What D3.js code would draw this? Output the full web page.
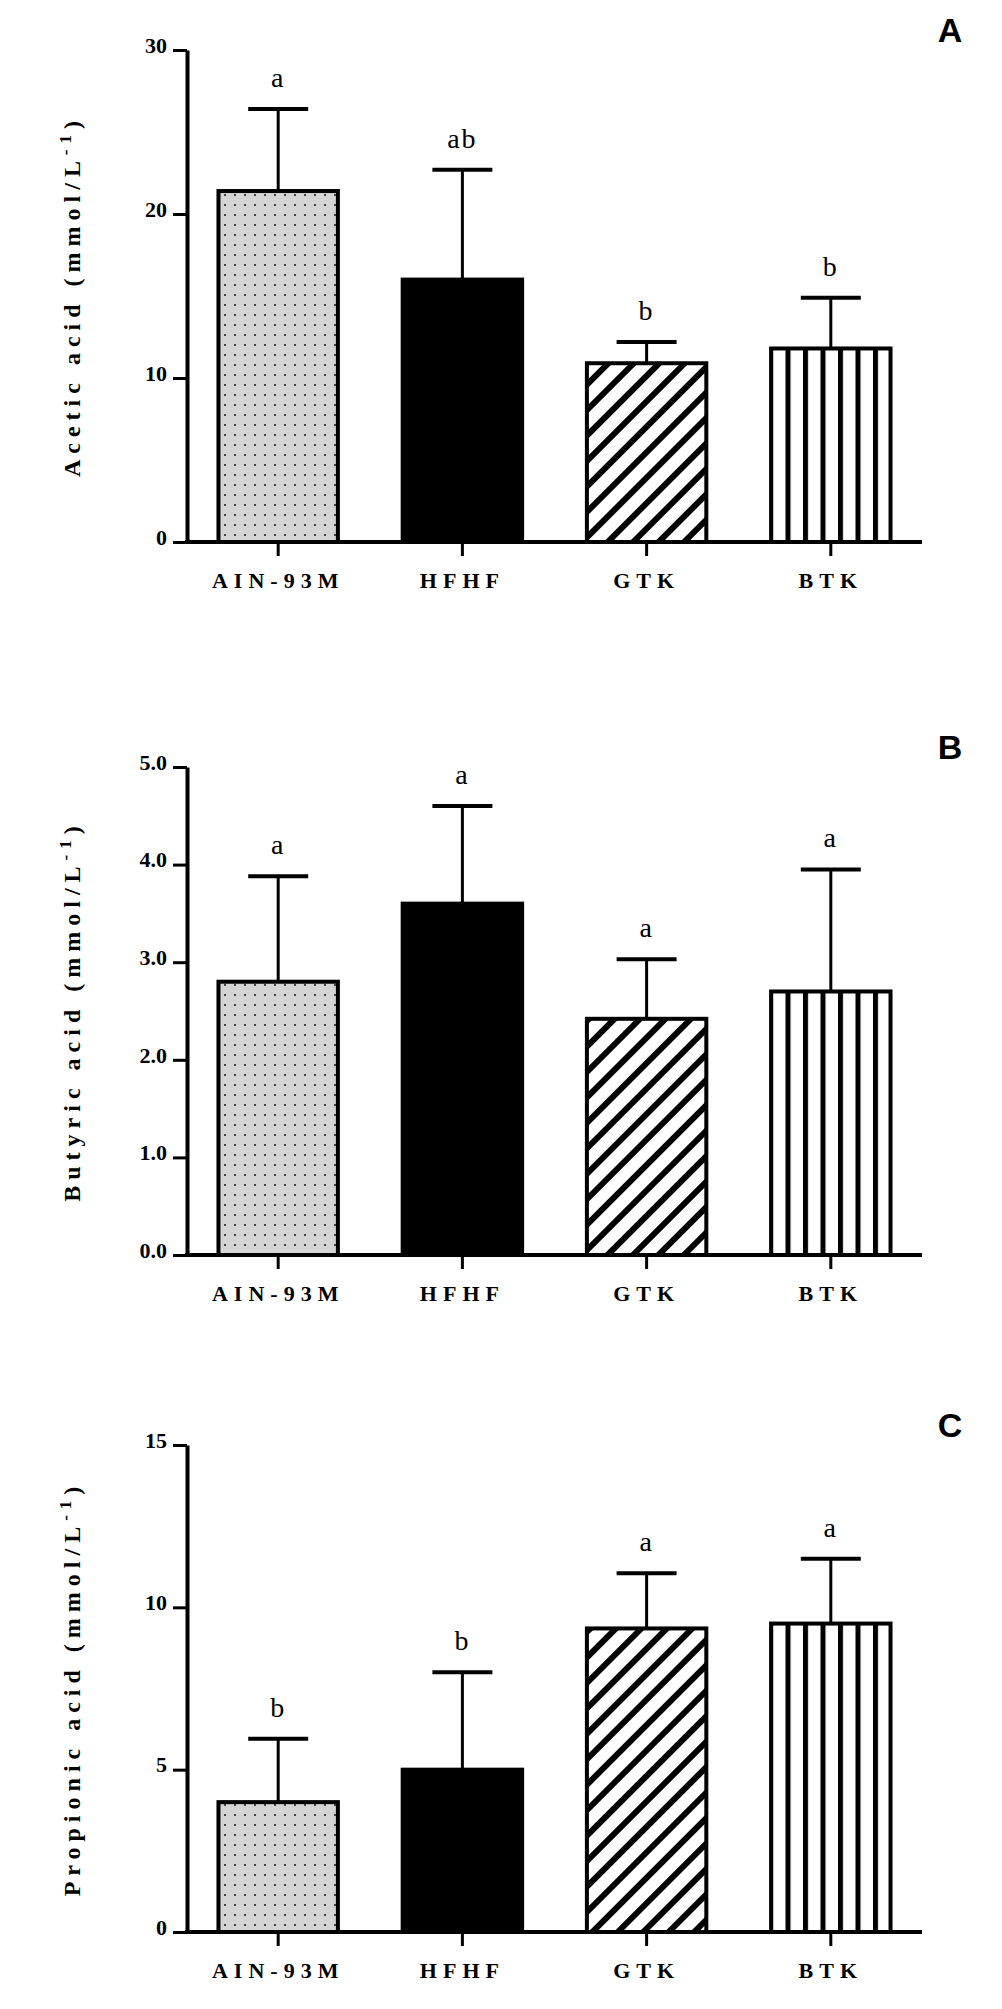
<!DOCTYPE html>
<html><head><meta charset="utf-8">
<script src="https://cdn.jsdelivr.net/npm/d3@7"></script>
<style>body{margin:0;background:#fff}</style>
</head><body><div id="chart"></div>
<script>
var vWidth = 1002, vHeight = 2009;
var groups = ["AIN-93M", "HFHF", "GTK", "BTK"];
var acetic = [21.4, 16.0, 10.9, 11.8];
var aceticErr = [26.4, 22.7, 12.2, 14.9];
var aceticSig = ["a", "ab", "b", "b"];
var butyric = [2.8, 3.6, 2.42, 2.7];
var butyricErr = [3.88, 4.6, 3.03, 3.95];
var butyricSig = ["a", "a", "a", "a"];
var propionic = [4.0, 5.0, 9.35, 9.5];
var propionicErr = [5.95, 8.0, 11.05, 11.5];
var propionicSig = ["b", "b", "a", "a"];

var svg = d3.select("#chart").append("svg").attr("width", vWidth).attr("height", vHeight);
var defs = svg.append("defs");

// patterns
var pDot = defs.append("pattern").attr("id", "dots").attr("patternUnits", "userSpaceOnUse")
  .attr("width", 10).attr("height", 10);
pDot.append("rect").attr("width", 10).attr("height", 10).attr("fill", "#d4d4d4");
pDot.append("circle").attr("cx", 5).attr("cy", 5).attr("r", 1.1).attr("fill", "#222");
var pDiag = defs.append("pattern").attr("id", "diag").attr("patternUnits", "userSpaceOnUse")
  .attr("width", 18).attr("height", 18).attr("patternTransform", "rotate(45)");
pDiag.append("rect").attr("width", 18).attr("height", 18).attr("fill", "#fff");
pDiag.append("rect").attr("width", 6).attr("height", 18).attr("fill", "#000");
var pVert = defs.append("pattern").attr("id", "vert").attr("patternUnits", "userSpaceOnUse")
  .attr("width", 17.5).attr("height", 10).attr("x", 768);
pVert.append("rect").attr("width", 17.5).attr("height", 10).attr("fill", "#fff");
pVert.append("rect").attr("width", 5).attr("height", 10).attr("fill", "#000");
var fills = ["url(#dots)", "#000", "url(#diag)", "url(#vert)"];

function drawPanel(letter, yTop, yBot, maxV, step, vals, errs, sig, label) {
  var x = d3.scaleBand().domain(groups).range([187, 922]).paddingInner(0.33).paddingOuter(0.16);
  var y = d3.scaleLinear().domain([0, maxV]).range([yBot, yTop]);
  var g = svg.append("g");

  // error bars (behind bars)
  groups.forEach(function (c, i) {
    var cx = x(c) + x.bandwidth() / 2;
    g.append("line").attr("x1", cx).attr("x2", cx).attr("y1", y(vals[i])).attr("y2", y(errs[i]))
      .attr("stroke", "#000").attr("stroke-width", 3);
    g.append("line").attr("x1", cx - 30).attr("x2", cx + 30).attr("y1", y(errs[i])).attr("y2", y(errs[i]))
      .attr("stroke", "#000").attr("stroke-width", 4);
    g.append("text").attr("x", cx).attr("y", y(errs[i]) - 22).attr("text-anchor", "middle")
      .attr("font-family", "Liberation Serif").attr("font-size", 28).attr("letter-spacing", 2).text(sig[i]);
  });

  g.selectAll("rect.bar").data(vals).enter().append("rect")
    .attr("x", (d, i) => x(groups[i]) + 2)
    .attr("width", x.bandwidth() - 4)
    .attr("y", d => y(d))
    .attr("height", d => y(0) - y(d))
    .attr("fill", (d, i) => fills[i])
    .attr("stroke", "#000").attr("stroke-width", 4);

  var ya = g.append("g").attr("transform", "translate(187,0)")
    .call(d3.axisLeft(y).tickValues(d3.range(0, maxV + 0.001, step)).tickSize(14).tickSizeOuter(0));
  var xa = g.append("g").attr("transform", "translate(0," + yBot + ")")
    .call(d3.axisBottom(x).tickSize(14).tickSizeOuter(0));
  [ya, xa].forEach(function (a) {
    a.select(".domain").attr("stroke-width", 4);
    a.selectAll(".tick line").attr("stroke-width", 3);
    a.selectAll("text").attr("font-family", "Liberation Serif").attr("font-weight", "bold")
      .attr("fill", "#000").attr("font-size", 22);
  });
  xa.select(".domain").attr("d", "M185,0H922");
  ya.selectAll("text").attr("x", -20).attr("dy", "0.1em");
  xa.selectAll("text").attr("y", 30).attr("letter-spacing", 6);

  var ly = (yTop + yBot) / 2;
  var t = g.append("text").attr("transform", "translate(80," + ly + ") rotate(-90)")
    .attr("text-anchor", "middle").attr("font-family", "Liberation Serif").attr("font-weight", "bold")
    .attr("font-size", 24).attr("letter-spacing", 6);
  t.append("tspan").text(label + " (mmol/L");
  t.append("tspan").attr("dy", -9).attr("font-size", 17).text("-1");
  t.append("tspan").attr("dy", 9).text(")");

  svg.append("text").attr("x", 950).attr("y", yTop - 8).attr("text-anchor", "middle")
    .attr("font-family", "Liberation Sans").attr("font-weight", "bold").attr("font-size", 34).text(letter);
}

drawPanel("A", 50, 542, 30, 10, acetic, aceticErr, aceticSig, "Acetic acid");
drawPanel("B", 767, 1255, 5, 1, butyric, butyricErr, butyricSig, "Butyric acid");
drawPanel("C", 1445, 1932, 15, 5, propionic, propionicErr, propionicSig, "Propionic acid");
</script>
</body></html>
